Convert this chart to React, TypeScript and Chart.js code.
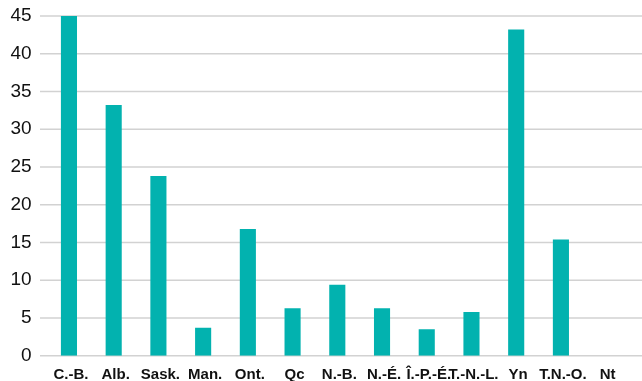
import React, { useEffect, useRef } from "react";
import { Chart, registerables } from "chart.js";

Chart.register(...registerables);

const categories = ["C.-B.", "Alb.", "Sask.", "Man.", "Ont.", "Qc", "N.-B.", "N.-É.", "Î.-P.-É.", "T.-N.-L.", "Yn", "T.N.-O.", "Nt"];
const values = [45, 33.2, 23.8, 3.7, 16.8, 6.3, 9.4, 6.3, 3.5, 5.8, 43.2, 15.4, 0];
const yTicks = [0, 5, 10, 15, 20, 25, 30, 35, 40, 45];

const gridPlugin = {
  id: "fullGrid",
  beforeDatasetsDraw(chart: any) {
    const { ctx, scales } = chart;
    const y = scales.y;
    ctx.save();
    ctx.strokeStyle = "#d2d2d2";
    ctx.lineWidth = 1.4;
    yTicks.forEach((t) => {
      const py = y.getPixelForValue(t);
      ctx.beginPath();
      ctx.moveTo(40, py);
      ctx.lineTo(chart.width, py);
      ctx.stroke();
    });
    ctx.restore();
  },
};

export default function App() {
  const ref = useRef<HTMLCanvasElement | null>(null);
  useEffect(() => {
    document.body.style.margin = "0";
    const chart = new Chart(ref.current!, {
      type: "bar",
      data: {
        labels: categories,
        datasets: [
          {
            data: values,
            backgroundColor: "#02B2AF",
            categoryPercentage: 1,
            barPercentage: 0.36,
          },
        ],
      },
      options: {
        animation: false,
        responsive: false,
        maintainAspectRatio: false,
        layout: { padding: { top: 16, right: 14, bottom: 0, left: 0 } },
        plugins: { legend: { display: false }, tooltip: { enabled: false } },
        scales: {
          x: {
            grid: { display: false, drawTicks: false },
            border: { display: false },
            ticks: {
              color: "#111",
              font: { family: "Liberation Sans, Arial, sans-serif", size: 15, weight: "bold" },
              padding: 10,
              labelOffset: 2,
              maxRotation: 0,
              autoSkip: false,
            },
            afterFit: (s: any) => {
              s.height = 25.3;
            },
          },
          y: {
            min: 0,
            max: 45,
            afterBuildTicks: (s: any) => {
              s.ticks = yTicks.map((v) => ({ value: v }));
            },
            grid: { display: false, drawTicks: false },
            border: { display: false },
            ticks: {
              color: "#111",
              font: { family: "Liberation Sans, Arial, sans-serif", size: 19 },
              padding: 15,
            },
            afterFit: (s: any) => {
              s.width = 46.6;
              s.paddingTop = 0;
              s.paddingBottom = 0;
            },
          },
        },
      },
      plugins: [gridPlugin],
    });
    return () => chart.destroy();
  }, []);
  return <canvas ref={ref} width={642} height={381} style={{ display: "block" }} />;
}
